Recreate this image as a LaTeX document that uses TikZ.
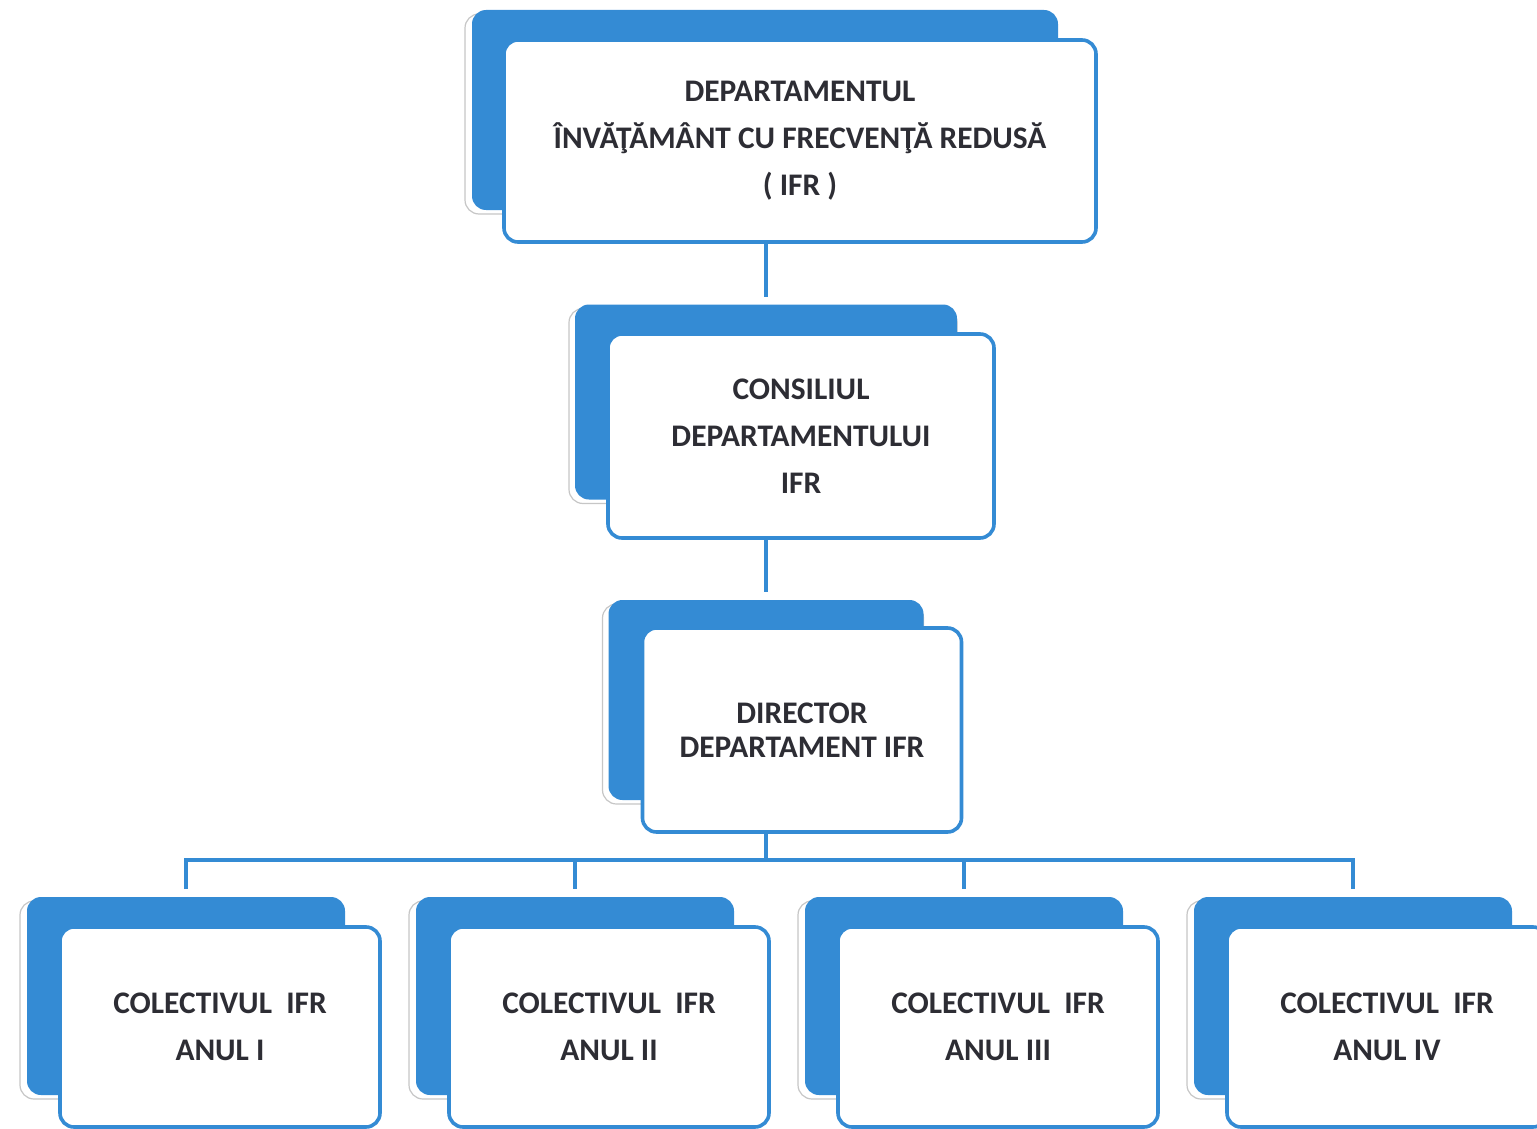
\documentclass[tikz,border=0pt]{standalone}
\usepackage{fontspec}
\setmainfont{Carlito}
\usetikzlibrary{calc,positioning}
\definecolor{ifrblue}{RGB}{52,139,212}
\definecolor{ifrtext}{RGB}{45,45,52}

\begin{document}
\begin{tikzpicture}[x=0.5pt,y=-0.5pt]
\tikzset{back/.style={shape=rectangle,rounded corners=7pt,fill=ifrblue,inner sep=0pt,outer sep=0pt}}
\tikzset{shade/.style={shape=rectangle,rounded corners=7pt,draw=gray!45,line width=0.6pt,fill=white,inner sep=0pt,outer sep=0pt}}
\tikzset{front/.style={shape=rectangle,rounded corners=7pt,draw=ifrblue,line width=1.8pt,fill=white,align=center,text=ifrtext,inner sep=0pt,outer sep=0pt,font=\bfseries\fontsize{15.7}{23.5}\selectfont}}
\tikzset{link/.style={draw=ifrblue,line width=2pt}}
\def\gap{35.5pt}
\useasboundingbox (0,0) rectangle (1537,1129);
%
\node at (761,114) [shade,minimum width=296pt,minimum height=100pt] (deptshade) {};
\node at (765,110) [back,minimum width=293pt,minimum height=100pt] (deptback) {};
\node at ($(deptback)+(35,31)$) [front,minimum width=296pt,minimum height=101pt] (dept) {DEPARTAMENTUL\\ÎNVĂŢĂMÂNT CU FRECVENŢĂ REDUSĂ\\( IFR )};
%
\node at (763,406) [shade,minimum width=194pt,minimum height=97.5pt] (consshade) {};
\node at (766,402) [back,minimum width=191pt,minimum height=97.5pt] (consback) {};
\node at ($(consback)+(35,34)$) [front,minimum width=193pt,minimum height=102pt] (cons) {CONSILIUL\\DEPARTAMENTULUI\\IFR};
%
\node at (763,704) [shade,minimum width=160.5pt,minimum height=100pt] (dirshade) {};
\node at (766,700) [back,minimum width=157.5pt,minimum height=100pt] (dirback) {};
\node at ($(dirback)+(36,30)$) [front,minimum width=159.5pt,minimum height=102pt,font=\bfseries\fontsize{15.7}{17}\selectfont] (dir) {DIRECTOR\\DEPARTAMENT IFR};
%
\node at (182,1000) [shade,minimum width=162pt,minimum height=99pt] (colshade1) {};
\node [shade,minimum width=162pt,minimum height=99pt,right=32.5pt of colshade1] (colshade2) {};
\node [shade,minimum width=162pt,minimum height=99pt,right=32.5pt of colshade2] (colshade3) {};
\node [shade,minimum width=162pt,minimum height=99pt,right=32.5pt of colshade3] (colshade4) {};
\node at (186,996) [back,minimum width=159pt,minimum height=99pt] (colback1) {};
\node [back,minimum width=159pt,minimum height=99pt,right=\gap of colback1] (colback2) {};
\node [back,minimum width=159pt,minimum height=99pt,right=\gap of colback2] (colback3) {};
\node [back,minimum width=159pt,minimum height=99pt,right=\gap of colback3] (colback4) {};
%
\node at ($(colback1)+(34,31)$) [front,minimum width=160pt,minimum height=100pt] (col1) {COLECTIVUL~~IFR\\ANUL I};
\node [front,minimum width=160pt,minimum height=100pt,right=34.5pt of col1] (col2) {COLECTIVUL~~IFR\\ANUL II};
\node [front,minimum width=160pt,minimum height=100pt,right=34.5pt of col2] (col3) {COLECTIVUL~~IFR\\ANUL III};
\node [front,minimum width=160pt,minimum height=100pt,right=34.5pt of col3] (col4) {COLECTIVUL~~IFR\\ANUL IV};
%
\coordinate (bus) at (766,860);
\draw[link,shorten >=4pt] (consback.north |- dept.south) -- (consback.north);
\draw[link,shorten >=4pt] (dirback.north |- cons.south) -- (dirback.north);
\draw[link] (dirback.center |- dir.south) -- (dirback.center |- bus);
\draw[link,shorten <=4pt,shorten >=4pt] (colback1.north) -- (colback1.north |- bus) -- (colback4.north |- bus) -- (colback4.north);
\draw[link,shorten >=4pt] (colback2.north |- bus) -- (colback2.north);
\draw[link,shorten >=4pt] (colback3.north |- bus) -- (colback3.north);
\end{tikzpicture}
\end{document}
